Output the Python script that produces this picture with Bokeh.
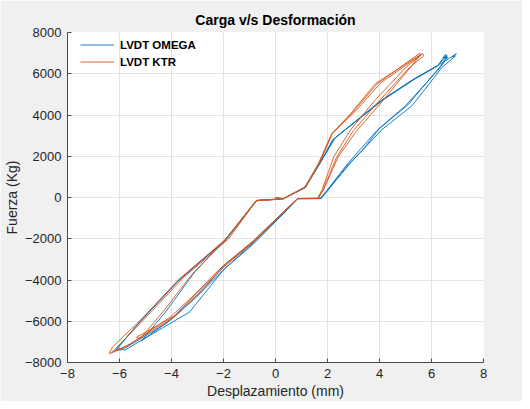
from bokeh.plotting import figure
from bokeh.models import FixedTicker, Legend, LegendItem
from bokeh.embed import file_html
from bokeh.resources import INLINE

# ---- data ----
omega_x = [0.0, 0.3, 1.15, 1.7, 2.25, 4.1, 5.3, 6.25, 6.55, 6.45, 6.6,
           6.3, 5.1, 4.0, 3.35, 2.8, 2.0, 1.75, 0.85, 0.3, -0.85, -2.0, -3.0, -3.95, -5.15,
           -4.2, -3.1, -2.0, -0.72, 0.3,
           1.15, 1.72, 2.3, 4.2, 5.4, 6.3, 6.96, 6.8, 6.92,
           6.4, 5.25, 4.1, 2.9, 2.0, 1.75, 0.85, 0.3, -0.9, -2.0, -3.3, -5.8, -6.05, -6.2,
           -5.2, -3.7, -1.9, -0.72, 0.28,
           1.1, 1.68, 2.2, 4.0, 5.2, 6.2, 6.6, 6.5, 6.62,
           6.3, 5.0, 3.9, 2.75, 1.95, 1.72, 0.85, 0.3, -0.8, -1.95, -3.1, -4.2, -5.9, -6.15,
           -5.3, -3.8, -2.0, -0.72, 0.0]
omega_y = [0, -60, 480, 1650, 2850, 4700, 5700, 6400, 6950, 6780, 6830,
           6300, 4500, 3350, 2300, 1600, 350, -50, -60, -750, -2150, -3350, -4700, -5850, -6950,
           -5500, -3600, -2150, -140, -60,
           500, 1680, 2900, 4800, 5800, 6450, 6970, 6820, 6860,
           6300, 4450, 3300, 1700, 330, -50, -50, -800, -2250, -3500, -5550, -7400, -7300, -7480,
           -6000, -4000, -2050, -150, -70,
           450, 1600, 2800, 4650, 5650, 6350, 6900, 6750, 6800,
           6250, 4450, 3250, 1600, 300, -40, -50, -780, -2200, -3450, -4900, -6100, -7380, -7420,
           -6150, -4100, -2150, -140, -90]

ktr_x = [0.0, 0.3, 1.15, 1.65, 2.15, 2.95, 3.9, 5.55, 5.6,
         5.05, 3.85, 2.9, 2.25, 1.8, 1.62, 0.85, 0.3, -0.85, -2.0, -3.0, -3.9, -5.35, -5.2,
         -4.3, -3.2, -2.0, -0.75, 0.3,
         1.15, 1.7, 2.2, 3.05, 4.05, 5.66, 5.7,
         5.15, 4.0, 3.0, 2.35, 1.82, 1.65, 0.85, 0.3, -0.9, -2.05, -3.15, -4.05, -5.7, -6.4, -6.27,
         -5.2, -3.7, -1.9, -0.74, 0.3,
         1.12, 1.68, 2.18, 2.9, 3.85, 5.6,
         5.2, 4.1, 3.1, 2.4, 1.85, 1.62, 0.85, 0.3, -0.8, -1.95, -2.95, -3.9, -5.6, -6.3,
         -5.05, -3.55, -1.8, -0.74, 0.0]
ktr_y = [0, -50, 520, 1650, 3050, 4100, 5500, 7000, 6900,
         6350, 4750, 3300, 2000, 400, -40, -50, -700, -2100, -3300, -4600, -5750, -6780, -6850,
         -5500, -3700, -2150, -150, -50,
         500, 1700, 3140, 4150, 5560, 6980, 6870,
         6300, 4700, 3250, 1950, 350, -50, -60, -720, -2150, -3350, -4750, -5800, -7200, -7580, -7250,
         -5950, -3950, -2000, -160, -60,
         480, 1680, 3100, 4080, 5530, 6950,
         6330, 4650, 3200, 1950, 380, -40, -50, -700, -2120, -3320, -4680, -5800, -7100, -7520,
         -5900, -3900, -2000, -150, -100]

x_ticks = [-8, -6, -4, -2, 0, 2, 4, 6, 8]
y_ticks = [-8000, -6000, -4000, -2000, 0, 2000, 4000, 6000, 8000]

title_text = "Carga v/s Desformación"
x_label = "Desplazamiento (mm)"
y_label = "Fuerza (Kg)"
series_names = ["LVDT OMEGA", "LVDT KTR"]
series_colors = ["#0072BD", "#D95319"]

FONT = "Liberation Sans"
TXT = "#262626"

p = figure(width=522, height=401, output_backend="svg", toolbar_location=None,
           x_range=(-8, 8), y_range=(-8000, 8000),
           min_border_left=65, min_border_right=39, min_border_top=32, min_border_bottom=38)
p.background_fill_color = "white"
p.border_fill_color = "#f0f0f0"
p.outline_line_color = None

p.title.text = title_text
p.title.align = "center"
p.title.text_font = FONT
p.title.text_font_size = "14px"
p.title.text_font_style = "bold"
p.title.text_color = "#000000"

for ax in (p.xaxis[0], p.yaxis[0]):
    ax.axis_line_color = "#4a4a4a"
    ax.major_tick_line_color = "#4a4a4a"
    ax.minor_tick_line_color = None
    ax.major_tick_in = 4
    ax.major_tick_out = 0
    ax.major_label_text_font = FONT
    ax.major_label_text_font_size = "13px"
    ax.major_label_text_color = TXT
    ax.major_label_standoff = 6
    ax.axis_label_text_font = FONT
    ax.axis_label_text_font_size = "14px"
    ax.axis_label_text_font_style = "normal"
    ax.axis_label_text_color = TXT
    ax.axis_label_standoff = 2

p.xaxis[0].ticker = FixedTicker(ticks=x_ticks)
p.yaxis[0].ticker = FixedTicker(ticks=y_ticks)
p.xaxis[0].axis_label = x_label
p.yaxis[0].axis_label = y_label

p.xgrid.ticker = FixedTicker(ticks=x_ticks)
p.ygrid.ticker = FixedTicker(ticks=y_ticks)
p.grid.grid_line_color = "#e3e3e3"

r1 = p.line(omega_x, omega_y, line_color=series_colors[0], line_width=0.9)
r2 = p.line(ktr_x, ktr_y, line_color=series_colors[1], line_width=0.9)

legend = Legend(items=[LegendItem(label=series_names[0], renderers=[r1]),
                       LegendItem(label=series_names[1], renderers=[r2])],
                location=(13, 292), padding=0, spacing=0, margin=0,
                glyph_width=34, glyph_height=17, label_height=17, label_standoff=6,
                label_text_font=FONT, label_text_font_size="11.5px",
                label_text_font_style="bold", label_text_color="#000000",
                background_fill_alpha=0, border_line_color=None)
p.add_layout(legend, "center")

open("out.html", "w").write(file_html(p, INLINE))
